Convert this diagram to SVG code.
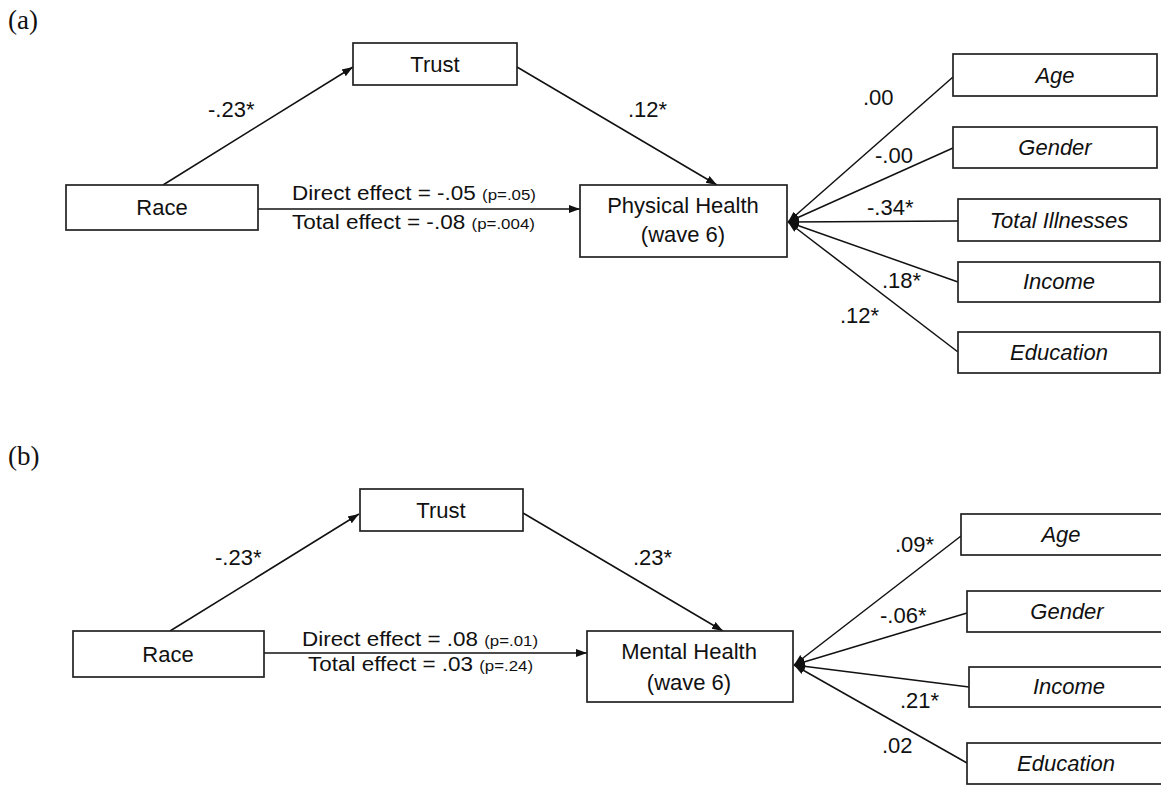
<svg xmlns="http://www.w3.org/2000/svg" width="1161" height="785" viewBox="0 0 1161 785">
<defs>
<style>
.box{fill:#fff;stroke:#222;stroke-width:1.7}
.lbl{font-family:"Liberation Sans",Arial,sans-serif;font-size:22px;fill:#111;text-anchor:middle}
.cov{font-family:"Liberation Sans",Arial,sans-serif;font-size:22px;font-style:italic;fill:#111;text-anchor:middle}
.num{font-family:"Liberation Sans",Arial,sans-serif;font-size:22px;fill:#111}
.eff{font-family:"Liberation Sans",Arial,sans-serif;font-size:20px;fill:#111}
.p{font-size:15px}
.panel{font-family:"Liberation Serif","Times New Roman",serif;font-size:27px;fill:#111}
.edge{stroke:#111;stroke-width:1.5;fill:none;marker-end:url(#arr)}
</style>
<marker id="arr" markerWidth="12" markerHeight="10" refX="11" refY="5" orient="auto" markerUnits="userSpaceOnUse">
<path d="M0,1 L11,5 L0,9 z" fill="#111"/>
</marker>
</defs>
<rect width="1161" height="785" fill="#fff"/>

<text class="panel" x="8" y="29">(a)</text>
<text class="panel" x="8" y="465">(b)</text>

<g id="connectors">
<!-- panel a -->
<line class="edge" x1="163" y1="185" x2="353" y2="67"/>
<line class="edge" x1="517" y1="67" x2="717" y2="185"/>
<line class="edge" x1="258" y1="209" x2="580" y2="209"/>
<line class="edge" x1="953" y1="77" x2="788" y2="222"/>
<line class="edge" x1="953" y1="148" x2="788" y2="222"/>
<line class="edge" x1="958" y1="221" x2="788" y2="222"/>
<line class="edge" x1="958" y1="282" x2="788" y2="222"/>
<line class="edge" x1="958" y1="352" x2="788" y2="222"/>
<!-- panel b -->
<line class="edge" x1="170" y1="631" x2="359" y2="514"/>
<line class="edge" x1="523" y1="513" x2="723" y2="631"/>
<line class="edge" x1="264" y1="653" x2="587" y2="653"/>
<line class="edge" x1="961" y1="536" x2="794" y2="665"/>
<line class="edge" x1="967" y1="613" x2="794" y2="665"/>
<line class="edge" x1="969" y1="687" x2="794" y2="665"/>
<line class="edge" x1="967" y1="763" x2="794" y2="665"/>
</g>

<g id="edge-labels">
<text class="num" x="208" y="117">-.23*</text>
<text class="num" x="628" y="117">.12*</text>
<text class="eff" x="292" y="200" textLength="244" lengthAdjust="spacingAndGlyphs">Direct effect = -.05 <tspan class="p">(p=.05)</tspan></text>
<text class="eff" x="292" y="229" textLength="243" lengthAdjust="spacingAndGlyphs">Total effect = -.08 <tspan class="p">(p=.004)</tspan></text>
<text class="num" x="863" y="105">.00</text>
<text class="num" x="875" y="163">-.00</text>
<text class="num" x="867" y="215">-.34*</text>
<text class="num" x="882" y="288">.18*</text>
<text class="num" x="840" y="323">.12*</text>

<text class="num" x="215" y="565">-.23*</text>
<text class="num" x="633" y="565">.23*</text>
<text class="eff" x="302" y="646" textLength="236" lengthAdjust="spacingAndGlyphs">Direct effect = .08 <tspan class="p">(p=.01)</tspan></text>
<text class="eff" x="308" y="671" textLength="225" lengthAdjust="spacingAndGlyphs">Total effect = .03 <tspan class="p">(p=.24)</tspan></text>
<text class="num" x="895" y="552">.09*</text>
<text class="num" x="880" y="623">-.06*</text>
<text class="num" x="900" y="708">.21*</text>
<text class="num" x="882" y="753">.02</text>
</g>

<!-- panel a nodes -->
<g id="a-race"><rect class="box" x="66" y="185" width="192" height="45"/><text class="lbl" x="162" y="215">Race</text></g>
<g id="a-trust"><rect class="box" x="353" y="43" width="164" height="42"/><text class="lbl" x="435" y="72">Trust</text></g>
<g id="a-physical"><rect class="box" x="580" y="185" width="207" height="72"/><text class="lbl" x="683" y="213">Physical Health</text><text class="lbl" x="683" y="242">(wave 6)</text></g>
<g id="a-age"><rect class="box" x="953" y="54" width="204" height="42"/><text class="cov" x="1055" y="83">Age</text></g>
<g id="a-gender"><rect class="box" x="953" y="127" width="204" height="41"/><text class="cov" x="1055" y="155">Gender</text></g>
<g id="a-illness"><rect class="box" x="958" y="199" width="202" height="42"/><text class="cov" x="1059" y="228">Total Illnesses</text></g>
<g id="a-income"><rect class="box" x="958" y="262" width="202" height="40"/><text class="cov" x="1059" y="289">Income</text></g>
<g id="a-education"><rect class="box" x="958" y="332" width="202" height="41"/><text class="cov" x="1059" y="360">Education</text></g>

<!-- panel b nodes -->
<g id="b-race"><rect class="box" x="73" y="631" width="191" height="46"/><text class="lbl" x="168" y="662">Race</text></g>
<g id="b-trust"><rect class="box" x="360" y="489" width="163" height="42"/><text class="lbl" x="441" y="518">Trust</text></g>
<g id="b-mental"><rect class="box" x="587" y="631" width="206" height="71"/><text class="lbl" x="689" y="659">Mental Health</text><text class="lbl" x="689" y="690">(wave 6)</text></g>
<g id="b-age"><rect class="box" x="961" y="514" width="215" height="41"/><text class="cov" x="1061" y="542">Age</text></g>
<g id="b-gender"><rect class="box" x="967" y="591" width="209" height="41"/><text class="cov" x="1067" y="619">Gender</text></g>
<g id="b-income"><rect class="box" x="969" y="667" width="207" height="40"/><text class="cov" x="1069" y="694">Income</text></g>
<g id="b-education"><rect class="box" x="967" y="743" width="209" height="41"/><text class="cov" x="1066" y="771">Education</text></g>
</svg>
